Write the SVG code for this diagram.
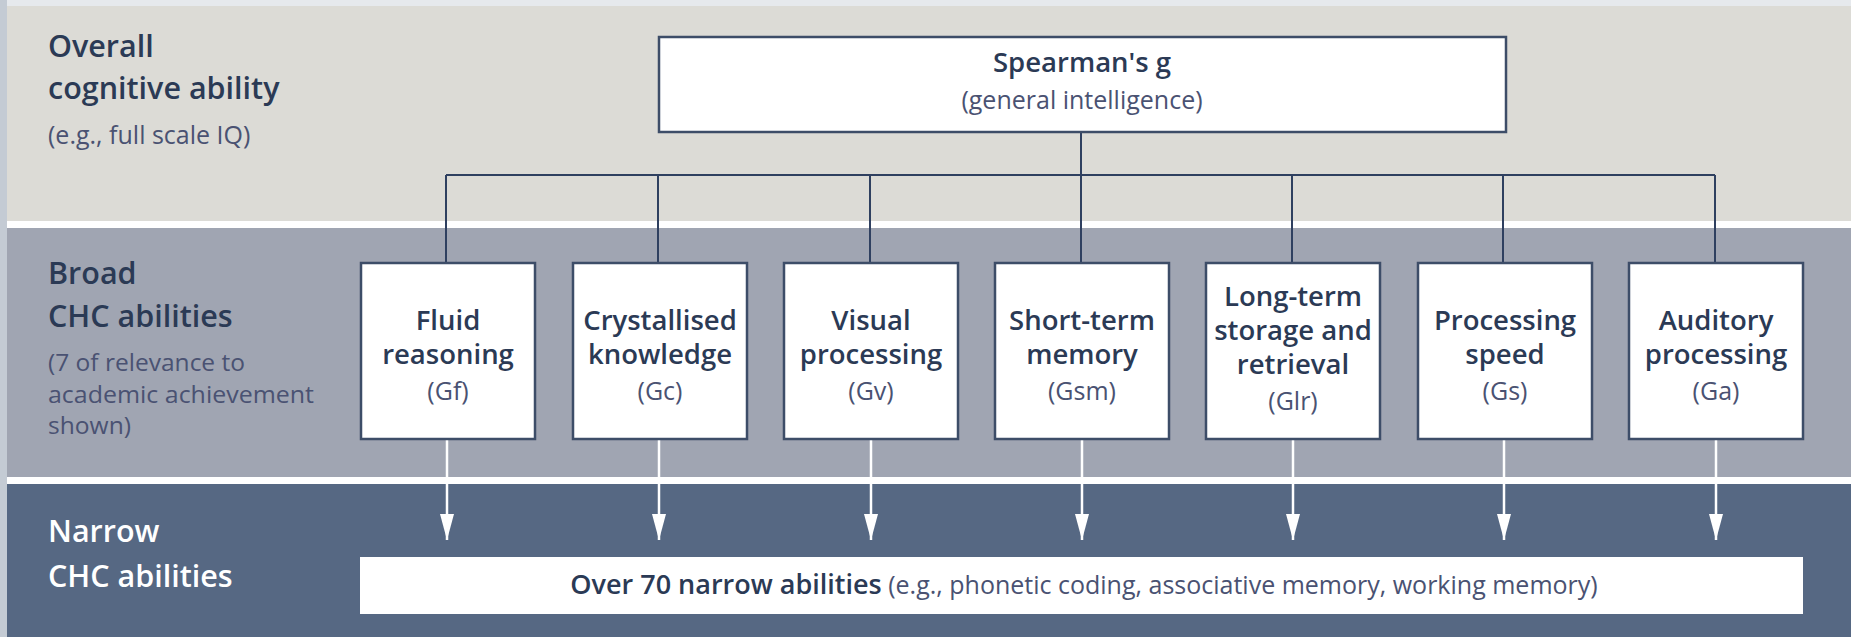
<svg xmlns="http://www.w3.org/2000/svg" width="1851" height="637" viewBox="0 0 1851 637">
<style>
.lbl{font-family:"Open Sans","Liberation Sans",sans-serif;font-weight:600;font-size:30.5px;fill:#2b3a55}
.lblw{font-family:"Open Sans","Liberation Sans",sans-serif;font-weight:600;font-size:30.5px;fill:#ffffff}
.sub{font-family:"Open Sans","Liberation Sans",sans-serif;font-weight:400;font-size:25px;fill:#4a5272}
.sub2{font-family:"Open Sans","Liberation Sans",sans-serif;font-weight:400;font-size:23px;fill:#4a5272}
.bt{font-family:"Open Sans","Liberation Sans",sans-serif;font-weight:600;font-size:27.5px;fill:#2b3a55;text-anchor:middle}
.bs{font-family:"Open Sans","Liberation Sans",sans-serif;font-weight:400;font-size:25px;fill:#4a5272;text-anchor:middle}
.box{fill:#ffffff;stroke:#3d4d68;stroke-width:2.5}
.conn{stroke:#2f4060;stroke-width:2;fill:none}
.arr{stroke:#ffffff;stroke-width:2.5;fill:none}
</style>
<defs>
<marker id="ah" viewBox="0 0 26 14" refX="26" refY="7" markerWidth="26" markerHeight="14" markerUnits="userSpaceOnUse" orient="auto">
<path d="M0,0 L26,7 L0,14 Z" fill="#ffffff"/>
</marker>
</defs>
<rect x="0" y="0" width="1851" height="637" fill="#e6e9ed"/>
<rect x="0" y="0" width="7" height="637" fill="#c4cbd4"/>
<rect x="7" y="6" width="1844" height="215" fill="#dcdbd6"/>
<rect x="7" y="221" width="1844" height="7" fill="#ffffff"/>
<rect x="7" y="228" width="1844" height="249" fill="#a0a5b2"/>
<rect x="7" y="477" width="1844" height="7" fill="#ffffff"/>
<rect x="7" y="484" width="1844" height="153" fill="#566883"/>

<g id="row-labels">
<text class="lbl" x="48" y="57">Overall</text>
<text class="lbl" x="48" y="99">cognitive ability</text>
<text class="sub" x="48" y="144">(e.g., full scale IQ)</text>
<text class="lbl" x="48" y="284">Broad</text>
<text class="lbl" x="48" y="327">CHC abilities</text>
<text class="sub2" x="48" y="371" textLength="197" lengthAdjust="spacingAndGlyphs">(7 of relevance to</text>
<text class="sub2" x="48" y="402.5" textLength="266" lengthAdjust="spacingAndGlyphs">academic achievement</text>
<text class="sub2" x="48" y="434" textLength="83" lengthAdjust="spacingAndGlyphs">shown)</text>
<text class="lblw" x="48" y="542">Narrow</text>
<text class="lblw" x="48" y="587">CHC abilities</text>
</g>

<g id="connectors">
<line class="conn" x1="1081" y1="132" x2="1081" y2="175"/>
<line class="conn" x1="446" y1="175" x2="1715" y2="175"/>
<line class="conn" x1="446" y1="175" x2="446" y2="263"/>
<line class="conn" x1="658" y1="175" x2="658" y2="263"/>
<line class="conn" x1="870" y1="175" x2="870" y2="263"/>
<line class="conn" x1="1081" y1="175" x2="1081" y2="263"/>
<line class="conn" x1="1292" y1="175" x2="1292" y2="263"/>
<line class="conn" x1="1503" y1="175" x2="1503" y2="263"/>
<line class="conn" x1="1715" y1="175" x2="1715" y2="263"/>
<line class="arr" x1="447" y1="439" x2="447" y2="540" marker-end="url(#ah)"/>
<line class="arr" x1="659" y1="439" x2="659" y2="540" marker-end="url(#ah)"/>
<line class="arr" x1="871" y1="439" x2="871" y2="540" marker-end="url(#ah)"/>
<line class="arr" x1="1082" y1="439" x2="1082" y2="540" marker-end="url(#ah)"/>
<line class="arr" x1="1293" y1="439" x2="1293" y2="540" marker-end="url(#ah)"/>
<line class="arr" x1="1504" y1="439" x2="1504" y2="540" marker-end="url(#ah)"/>
<line class="arr" x1="1716" y1="439" x2="1716" y2="540" marker-end="url(#ah)"/>
</g>

<g id="g-node">
<rect class="box" x="659" y="37" width="847" height="95"/>
<text class="bt" x="1082" y="72">Spearman's g</text>
<text class="bs" x="1082" y="109">(general intelligence)</text>
</g>

<g id="gf">
<rect class="box" x="361" y="263" width="174" height="176"/>
<text class="bt" x="448" y="330">Fluid</text>
<text class="bt" x="448" y="364">reasoning</text>
<text class="bs" x="448" y="400">(Gf)</text>
</g>
<g id="gc">
<rect class="box" x="573" y="263" width="174" height="176"/>
<text class="bt" x="660" y="330">Crystallised</text>
<text class="bt" x="660" y="364">knowledge</text>
<text class="bs" x="660" y="400">(Gc)</text>
</g>
<g id="gv">
<rect class="box" x="784" y="263" width="174" height="176"/>
<text class="bt" x="871" y="330">Visual</text>
<text class="bt" x="871" y="364">processing</text>
<text class="bs" x="871" y="400">(Gv)</text>
</g>
<g id="gsm">
<rect class="box" x="995" y="263" width="174" height="176"/>
<text class="bt" x="1082" y="330">Short-term</text>
<text class="bt" x="1082" y="364">memory</text>
<text class="bs" x="1082" y="400">(Gsm)</text>
</g>
<g id="glr">
<rect class="box" x="1206" y="263" width="174" height="176"/>
<text class="bt" x="1293" y="306">Long-term</text>
<text class="bt" x="1293" y="340">storage and</text>
<text class="bt" x="1293" y="374">retrieval</text>
<text class="bs" x="1293" y="410">(Glr)</text>
</g>
<g id="gs">
<rect class="box" x="1418" y="263" width="174" height="176"/>
<text class="bt" x="1505" y="330">Processing</text>
<text class="bt" x="1505" y="364">speed</text>
<text class="bs" x="1505" y="400">(Gs)</text>
</g>
<g id="ga">
<rect class="box" x="1629" y="263" width="174" height="176"/>
<text class="bt" x="1716" y="330">Auditory</text>
<text class="bt" x="1716" y="364">processing</text>
<text class="bs" x="1716" y="400">(Ga)</text>
</g>

<g id="narrow">
<rect x="360" y="557" width="1443" height="57" fill="#ffffff"/>
<text x="1084" y="594" text-anchor="middle" font-family="Open Sans, Liberation Sans, sans-serif" fill="#2b3a55"><tspan font-weight="600" font-size="27">Over 70 narrow abilities</tspan><tspan font-weight="400" font-size="25" fill="#4a5272"> (e.g., phonetic coding, associative memory, working memory)</tspan></text>
</g>
</svg>
